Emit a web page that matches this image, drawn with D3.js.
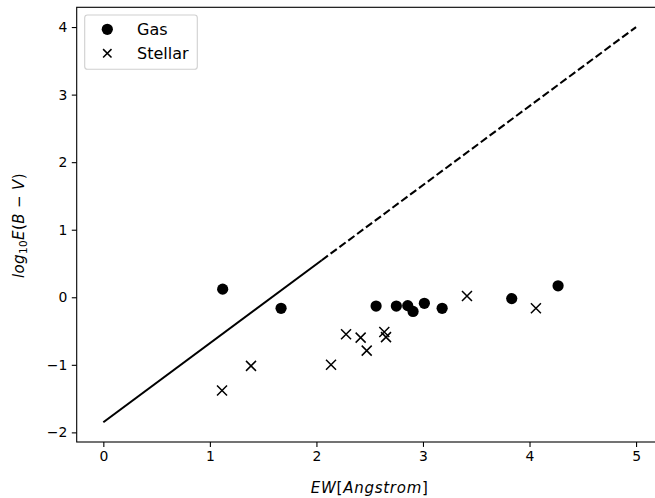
<!DOCTYPE html>
<html><head><meta charset="utf-8">
<script src="https://cdn.jsdelivr.net/npm/d3@7"></script>
<style>body{margin:0;background:#fff}svg{font-family:"DejaVu Sans",sans-serif}</style>
</head><body>
<svg id="c" width="655" height="498"></svg>
<script>
const gasX = [1.12, 1.668, 2.56, 2.75, 2.857, 2.907, 3.013, 3.18, 3.833, 4.268];
const gasY = [0.12, -0.163, -0.13, -0.13, -0.124, -0.21, -0.089, -0.163, -0.02, 0.17];
const stelX = [1.114, 1.386, 2.137, 2.278, 2.415, 2.472, 2.637, 2.653, 3.413, 4.06];
const stelY = [-1.38, -1.016, -1.0, -0.548, -0.597, -0.79, -0.513, -0.59, 0.019, -0.163];
const fitSolidX = [0, 2.05];
const fitDashX = [2.05, 5];
const fitIntercept = -1.85, fitSlope = 1.17;
const xTicks = [0, 1, 2, 3, 4, 5];
const yTicks = [-2, -1, 0, 1, 2, 3, 4];

const svg = d3.select("#c");
const L = 76.7, R = 662.7, T = 7.3, B = 442;
const x = d3.scaleLinear().domain([-0.25, 5.25]).range([L, R]);
const y = d3.scaleLinear().domain([-2.1425, 4.2925]).range([B, T]);

const fit = v => fitIntercept + fitSlope * v;
const line = d3.line().x(d => x(d)).y(d => y(fit(d)));
svg.append("path").attr("d", line(fitSolidX)).attr("fill", "none").attr("stroke", "#000").attr("stroke-width", 2.08);
svg.append("path").attr("d", line(fitDashX)).attr("fill", "none").attr("stroke", "#000").attr("stroke-width", 2.08).attr("stroke-dasharray", "7.7,3.3");

svg.append("g").selectAll("circle").data(gasX).join("circle")
  .attr("cx", d => x(d)).attr("cy", (d, i) => y(gasY[i])).attr("r", 5.6).attr("fill", "#000");

const xs = 5;
svg.append("g").selectAll("path").data(stelX).join("path")
  .attr("d", (d, i) => { const cx = x(d), cy = y(stelY[i]); return `M${cx-xs},${cy-xs}L${cx+xs},${cy+xs}M${cx-xs},${cy+xs}L${cx+xs},${cy-xs}`; })
  .attr("stroke", "#000").attr("stroke-width", 1.5).attr("fill", "none");

// axes
const gx = svg.append("g").attr("transform", `translate(0,${B})`).call(d3.axisBottom(x).tickValues(xTicks).tickSize(4.9).tickPadding(4.5).tickFormat(d3.format("d")));
const gy = svg.append("g").attr("transform", `translate(${L},0)`).call(d3.axisLeft(y).tickValues(yTicks).tickSize(4.9).tickPadding(4.5).tickFormat(d => d < 0 ? "\u2212" + Math.abs(d) : d));
[gx, gy].forEach(g => {
  g.select(".domain").remove();
  g.selectAll(".tick line").attr("stroke", "#000").attr("stroke-width", 1.1);
  g.selectAll(".tick text").attr("font-size", 13.9).attr("fill", "#000").attr("font-family", "DejaVu Sans");
});
// spines
svg.append("rect").attr("x", L).attr("y", T).attr("width", R - L).attr("height", B - T)
  .attr("fill", "none").attr("stroke", "#000").attr("stroke-width", 1.1);

function fitWidth(t, target, nchars) {
  const w = t.node().getComputedTextLength();
  t.attr("letter-spacing", Math.max(0, (target - w) / nchars));
}

// x label
const xl = svg.append("text").attr("x", (L + R) / 2).attr("y", 492.5).attr("text-anchor", "middle").attr("font-size", 15);
xl.append("tspan").attr("font-style", "italic").text("EW");
xl.append("tspan").text("[");
xl.append("tspan").attr("font-style", "italic").text("Angstrom");
xl.append("tspan").text("]");
fitWidth(xl, 118, 12);

// y label
const yl = svg.append("text").attr("transform", `translate(24,225.5) rotate(-90)`).attr("text-anchor", "middle").attr("font-size", 15);
yl.append("tspan").attr("font-style", "italic").text("log");
yl.append("tspan").attr("font-size", 10.5).attr("dy", 2.7).text("10");
yl.append("tspan").attr("font-style", "italic").attr("dy", -2.7).text("E");
yl.append("tspan").text("(");
yl.append("tspan").attr("font-style", "italic").text("B");
yl.append("tspan").text(" \u2212 ");
yl.append("tspan").attr("font-style", "italic").text("V");
yl.append("tspan").text(")");
fitWidth(yl, 105, 13);

// legend
const lg = svg.append("g");
lg.append("rect").attr("x", 84.7).attr("y", 15).attr("width", 112.6).attr("height", 54.3).attr("rx", 2.8)
  .attr("fill", "#fff").attr("fill-opacity", 0.8).attr("stroke", "#d0d0d0").attr("stroke-width", 1.1);
lg.append("circle").attr("cx", 107.3).attr("cy", 29.3).attr("r", 5.6).attr("fill", "#000");
lg.append("path").attr("d", `M${107.3-xs+0.8},${53.3-xs+0.8}L${107.3+xs-0.8},${53.3+xs-0.8}M${107.3-xs+0.8},${53.3+xs-0.8}L${107.3+xs-0.8},${53.3-xs+0.8}`).attr("stroke", "#000").attr("stroke-width", 1.5);
lg.append("text").attr("x", 137).attr("y", 35).attr("font-size", 16).text("Gas");
lg.append("text").attr("x", 137).attr("y", 59.3).attr("font-size", 16).text("Stellar");
</script>
</body></html>
